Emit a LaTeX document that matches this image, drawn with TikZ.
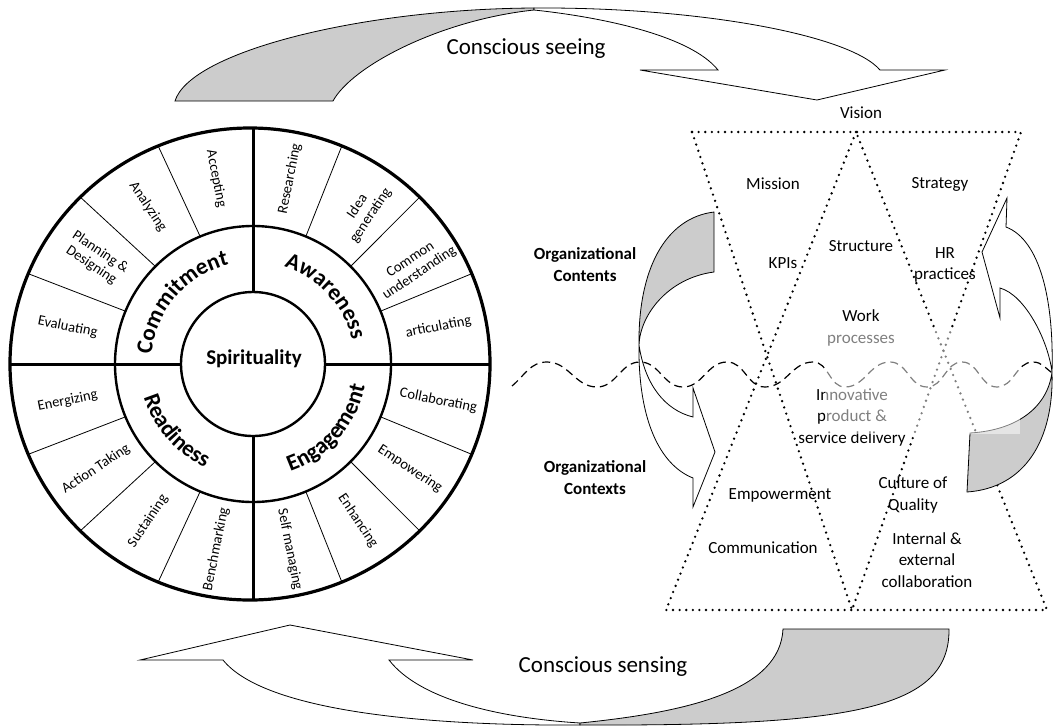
\documentclass[tikz,border=0pt]{standalone}
\usepackage{fontspec}
\setmainfont{Carlito}
\usetikzlibrary{calc,decorations.text}
\definecolor{shade}{RGB}{204,204,204}
\newcommand\qfont{\bfseries\fontsize{23}{23}\selectfont}
\begin{document}
\begin{tikzpicture}[x=1pt,y=-1pt,
  segtext/.style={font=\fontsize{14.5}{16}\selectfont, align=center, inner sep=0pt},
  lbl/.style={font=\fontsize{17}{21.5}\selectfont, align=center, inner sep=0pt},
  orglbl/.style={font=\bfseries\fontsize{17}{22}\selectfont, align=center, inner sep=0pt},
  bigtxt/.style={font=\fontsize{23}{26}\selectfont, inner sep=0pt},
  dotline/.style={line width=2.6pt, dash pattern=on 0pt off 6.6pt, line cap=round},
  wave/.style={line width=1.2pt, dash pattern=on 8pt off 5pt},
  grayfill/.style={fill=shade, draw=black, line width=0.8pt},
  whitefill/.style={fill=white, draw=black, line width=0.8pt},
  quad/.style={decorate, decoration={text along path, text align=center}}]
\useasboundingbox (0,0) rectangle (1054,726);

% ---------------- wheel ----------------
\coordinate (C) at (253,364);
\coordinate (O) at (250,364);
\draw[line width=3.2pt] (O) ellipse[x radius=240, y radius=236];
\draw[line width=2.4pt] (C) circle[radius=138];
\draw[line width=2.4pt] (C) circle[radius=72];
\draw[line width=3pt] (253,292) -- (253,128);
\draw[line width=3pt] (253,436) -- (253,600);
\draw[line width=3pt] (10,364) -- (181,364);
\draw[line width=3pt] (325,364) -- (490,364);
\foreach \a in {22.5,45,67.5,112.5,135,157.5,202.5,225,247.5,292.5,315,337.5}
  \draw[line width=0.8pt] ($(C)+({138*cos(\a)},{-138*sin(\a)})$) -- ($(O)+({240*cos(\a)},{-236*sin(\a)})$);

\node[segtext, rotate=-78.75] (accepting) at ($(C)+(-101.25:189)$) {Accepting};
\node[segtext, rotate=-56.25] (analyzing) at ($(C)+(-123.75:189)$) {Analyzing};
\node[segtext, rotate=-33.75] (planning) at ($(C)+(-146.25:189)$) {Planning \&\\Designing};
\node[segtext, rotate=-11.25] (evaluating) at ($(C)+(-168.75:189)$) {Evaluating};
\node[segtext, rotate=78.75] (researching) at ($(C)+(-78.75:189)$) {Researching};
\node[segtext, rotate=56.25] (idea) at ($(C)+(-54:189)$) {Idea\\generating};
\node[segtext, rotate=33.75] (common) at ($(C)+(-31:189)$) {Common\\understanding};
\node[segtext, rotate=11.25] (articulating) at ($(C)+(-11.25:189)$) {articulating};
\node[segtext, rotate=-11.25] (collaborating) at ($(C)+(11.25:189)$) {Collaborating};
\node[segtext, rotate=-33.75] (empowering) at ($(C)+(33.75:189)$) {Empowering};
\node[segtext, rotate=-56.25] (enhancing) at ($(C)+(56.25:189)$) {Enhancing};
\node[segtext, rotate=-78.75] (selfmanaging) at ($(C)+(78.75:189)$) {Self managing};
\node[segtext, rotate=11.25] (energizing) at ($(C)+(-191.25:189)$) {Energizing};
\node[segtext, rotate=33.75] (actiontaking) at ($(C)+(-213.75:189)$) {Action Taking};
\node[segtext, rotate=56.25] (sustaining) at ($(C)+(-236.25:189)$) {Sustaining};
\node[segtext, rotate=78.75] (benchmarking) at ($(C)+(-258.75:189)$) {Benchmarking};

\path[quad, decoration={text={|\qfont|Commitment}}] (C) ++(-182:102) arc[start angle=-182, end angle=-96, radius=102];
\path[quad, decoration={text={|\qfont|Awareness}}] (C) ++(-84:102) arc[start angle=-84, end angle=-2, radius=102];
\path[quad, decoration={text={|\qfont|Readiness}}] (C) ++(-186:114) arc[start angle=-186, end angle=-256, radius=114];
\path[quad, decoration={text={|\qfont|Engagement}}] (C) ++(-284:114) arc[start angle=-284, end angle=-354, radius=114];
\node[font=\bfseries\fontsize{21}{21}\selectfont, inner sep=0pt] (spirit) at (254,359) {Spirituality};

% ---------------- dotted triangles ----------------
\coordinate (tl) at (692,132);
\coordinate (tr) at (1021,132);
\coordinate (tm) at (856,132);
\coordinate (bv) at (852,610);
\coordinate (bl) at (666,610);
\coordinate (br) at (1047,610);
\draw[dotline] (tl) -- (tr);
\draw[dotline] (tl) -- (bv) -- (tr);
\draw[dotline] (tm) -- (bl) -- (br) -- cycle;

% ---------------- side arrows ----------------
\draw[grayfill] (714,212) -- (714,272) .. controls (668,278) and (640,315) .. (639,345)
   .. controls (638,270) and (665,218) .. (714,212) -- cycle;
\draw[whitefill] (639,345) .. controls (638,420) and (660,465) .. (693,478) -- (693,507) -- (715,452)
   -- (693,388) -- (693,417) .. controls (665,410) and (645,385) .. (639,345) -- cycle;

\draw[whitefill] (1052,372) .. controls (1054,300) and (1040,240) .. (1006,227) -- (1007,198) -- (982,252)
   -- (1000,318) -- (1000,288) .. controls (1025,295) and (1048,340) .. (1052,372) -- cycle;
\draw[grayfill] (1052,372) .. controls (1054,440) and (1025,488) .. (967,492) -- (970,433)
   .. controls (1020,430) and (1048,405) .. (1052,372) -- cycle;

% ---------------- wave ----------------
\draw[wave] (512,386) to[out=40,in=180] (547,362) to[out=0,in=180] (597,387) to[out=0,in=180] (640,362)
  to[out=0,in=180] (683,387) to[out=0,in=180] (727,362) to[out=0,in=180] (765,387) to[out=0,in=180] (813,362)
  to[out=0,in=180] (845,387) to[out=0,in=180] (890,362) to[out=0,in=180] (927,387) to[out=0,in=180] (962,362)
  to[out=0,in=180] (997,387) to[out=0,in=180] (1033,362) to[out=0,in=150] (1054,374);

% ---------------- top and bottom arrows ----------------
\draw[grayfill] (175,101) -- (333,101) .. controls (352,66) and (440,20) .. (534,10) -- (534,8)
   .. controls (360,9) and (190,52) .. (175,101) -- cycle;
\draw[whitefill] (534,8) .. controls (700,7) and (850,35) .. (880,70) -- (945,70) -- (817,100) -- (640,70)
   -- (718,70) .. controls (690,35) and (600,17) .. (534,10) -- cycle;

\draw[whitefill] (223,660) -- (140,660) -- (290,625) -- (473,660) -- (389,660)
   .. controls (420,700) and (500,718) .. (580,723) -- (580,725) .. controls (430,726) and (265,712) .. (223,660) -- cycle;
\draw[grayfill] (580,723) .. controls (690,712) and (780,690) .. (783,629) -- (949,629)
   .. controls (950,710) and (850,726) .. (580,725) -- cycle;

% ---------------- texts ----------------
\node[bigtxt] (seeing) at (526,49) {Conscious seeing};
\node[bigtxt] (sensing) at (603,667) {Conscious sensing};
\node[lbl] (vision) at (861,113) {Vision};
\node[lbl] (mission) at (773,184) {Mission};
\node[lbl] (strategy) at (940,184) {Strategy};
\node[lbl] (kpis) at (783,263) {KPIs};
\node[lbl] (structure) at (861,246) {Structure};
\node[lbl] (hr) at (945,265) {HR\\practices};
\node[lbl] (work) at (861,328) {Work\\processes};
\node[lbl] (innov) at (852,417) {Innovative\\product \&\\service delivery};
\node[lbl] (culture) at (913,495) {Culture of\\Quality};
\node[lbl] (internal) at (927,560) {Internal \&\\external\\collaboration};
\node[lbl] (empower) at (780,495) {Empowerment};
\node[lbl] (comm) at (763,548) {Communication};
\node[orglbl] (contents) at (585,265) {Organizational\\Contents};
\node[orglbl] (contexts) at (595,478) {Organizational\\Contexts};

% translucent box
\fill[white, fill opacity=0.5] (825,328) rectangle (1020,434);
\end{tikzpicture}
\end{document}
